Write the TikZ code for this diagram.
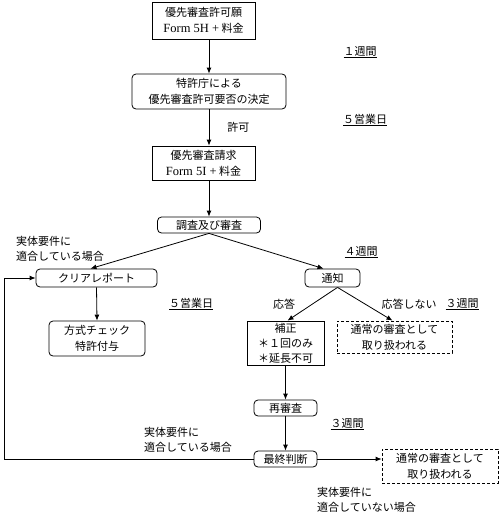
\documentclass[tikz,border=0pt]{standalone}
\usepackage{fontspec}
\setmainfont{Noto Sans CJK JP}
\newfontfamily\lserif{Liberation Serif}
\usetikzlibrary{calc, arrows.meta}
\tikzstyle{box}=[draw, line width=0.8pt, align=center, inner sep=1pt, font=\fontsize{11}{16}\selectfont]
\tikzstyle{rbox}=[box, rounded corners=4pt]
\tikzstyle{dbox}=[box, dash pattern=on 3pt off 2pt]
\tikzstyle{note}=[align=left, inner sep=0pt, font=\fontsize{11}{15}\selectfont]
\tikzstyle{flow}=[line width=0.8pt, -{Latex[length=6pt, width=5pt]}]

\begin{document}
\begin{tikzpicture}[x=1pt, y=-1pt]
    \useasboundingbox (0,0) rectangle (500,525);
    \node [box, minimum width=103pt, minimum height=37pt] (apply) at (203.5,20.5) {優先審査許可願\\{\lserif\fontsize{12.5}{16}\selectfont Form 5H +} 料金};
    \node [rbox, minimum width=154pt, minimum height=35pt] (decide) at (209,91.5) {特許庁による\\優先審査許可要否の決定};
    \node [box, minimum width=103pt, minimum height=34pt] (request) at (203.5,163) {優先審査請求\\{\lserif\fontsize{12.5}{16}\selectfont Form 5I +} 料金};
    \node [rbox, minimum width=103pt, minimum height=16pt] (exam) at (209,225) {調査及び審査};
    \node [rbox, minimum width=121pt, minimum height=18pt] (clear) at (96.5,278) {クリアレポート};
    \node [rbox, minimum width=55pt, minimum height=18pt] (notice) at (332.5,278) {通知};
    \node [rbox, minimum width=96pt, minimum height=35pt] (method) at (97,338.5) {方式チェック\\特許付与};
    \node [box, minimum width=77pt, minimum height=44pt, font=\fontsize{11}{15}\selectfont] (amend) at (285.5,343) {補正\\＊１回のみ\\＊延長不可};
    \node [dbox, minimum width=115pt, minimum height=32pt] (normalA) at (394.5,337) {通常の審査として\\取り扱われる};
    \node [rbox, minimum width=63pt, minimum height=16pt] (reexam) at (285.5,408) {再審査};
    \node [rbox, minimum width=63pt, minimum height=16pt] (final) at (285.5,459) {最終判断};
    \node [dbox, minimum width=116pt, minimum height=34pt] (normalB) at (440,466) {通常の審査として\\取り扱われる};
    \coordinate (back) at (4,278);
    % connectors
    \draw [flow] (apply.south -| decide.north) -- (decide.north);
    \draw [flow] (decide.south) -- (decide.south |- request.north) node [midway, right=18pt, note] {許可};
    \draw [flow] (request.south -| exam.north) -- (exam.north);
    \draw [flow] (exam.south) -- ($(clear.north)+(-6,0)$);
    \draw [flow] (exam.south) -- ($(notice.north)+(-9,0)$);
    \draw [flow] (clear.south) -- (method.north);
    \draw [flow] ($(notice.south)+(5,0)$) -- ($(amend.north)+(2,0)$);
    \draw [flow] ($(notice.south)+(5,0)$) -- ($(normalA.north)+(-2,0)$);
    \draw [flow] (amend.south) -- (reexam.north);
    \draw [flow] (reexam.south) -- (final.north);
    \draw [flow] (final.east) -- (final.east -| normalB.west);
    \draw [flow] (final.west) -| (back) -- (clear.west);
    % durations and conditions
    \node [note] (w1) at (360,52) {\underline{１週間}};
    \node [note] (d1) at (365,120) {\underline{５営業日}};
    \node [note] (w4) at (361,252) {\underline{４週間}};
    \node [note] (d2) at (191,304) {\underline{５営業日}};
    \node [note] (ok) at (284,304) {応答};
    \node [note] (ng) at (409,304) {応答しない};
    \node [note] (w3a) at (462,304) {\underline{３週間}};
    \node [note] (w3b) at (347,424) {\underline{３週間}};
    \node [note, anchor=west] (fitA) at (16,249) {実体要件に\\適合している場合};
    \node [note, anchor=west] (fitB) at (144,439.5) {実体要件に\\適合している場合};
    \node [note, anchor=west] (unfit) at (317,500) {実体要件に\\適合していない場合};
\end{tikzpicture}
\end{document}
